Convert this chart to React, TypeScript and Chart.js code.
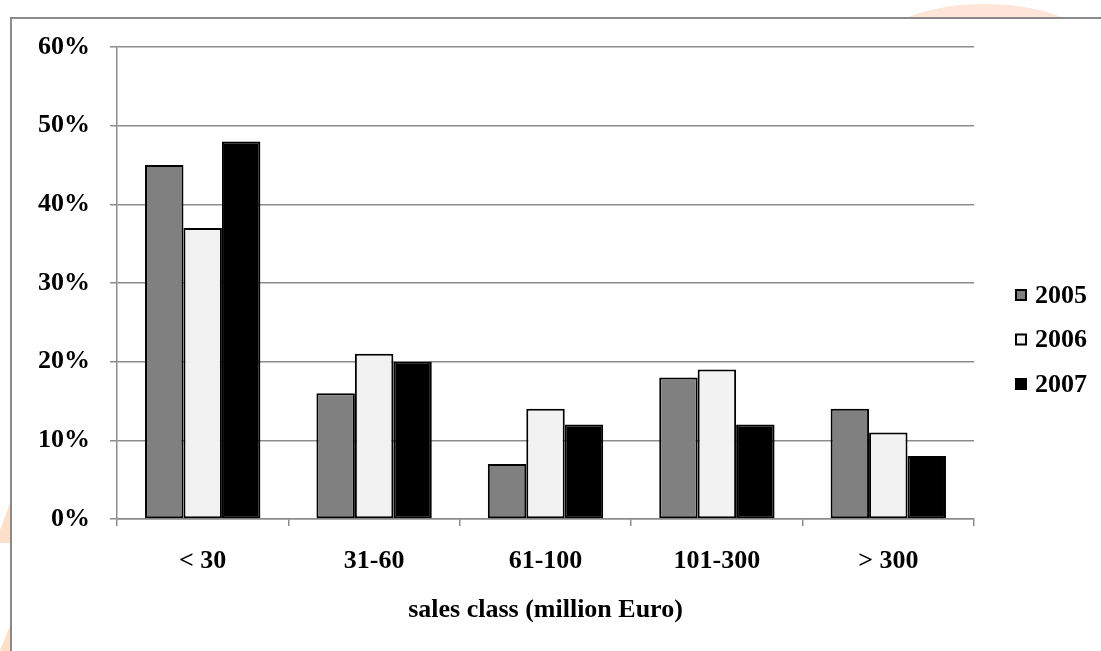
import React, { useEffect, useRef } from "react";
import { Chart, registerables } from "chart.js";

Chart.register(...registerables);

// Sales classes (million Euro) and the share of companies in each class per year (%)
const categories = ["< 30", "31-60", "61-100", "101-300", "> 300"];
const seriesLabels = ["2005", "2006", "2007"];
const share2005 = [45, 16, 7, 18, 14];
const share2006 = [37, 21, 14, 19, 11];
const share2007 = [48, 20, 12, 12, 8];
const yMax = 60;
const yStep = 10;

const WIDTH = 1101;
const HEIGHT = 651;
const FONT_FAMILY = "'Liberation Serif', 'Times New Roman', serif";
const GRID_COLOR = "#8c8c8c";

// Page background with the faint logo shapes and the grey frame around the chart.
const framePlugin = {
  id: "frame",
  beforeDraw(chart: Chart) {
    const { ctx, width, height } = chart;
    ctx.save();
    ctx.fillStyle = "#ffffff";
    ctx.fillRect(0, 0, width, height);

    ctx.fillStyle = "#fde6d8";
    ctx.beginPath();
    ctx.ellipse(985, 60, 120, 56, 0, 0, Math.PI * 2);
    ctx.fill();

    ctx.fillStyle = "#fde0cc";
    ctx.beginPath();
    ctx.moveTo(10, 503);
    ctx.lineTo(10, 543);
    ctx.lineTo(0, 543);
    ctx.lineTo(0, 530);
    ctx.closePath();
    ctx.fill();
    ctx.beginPath();
    ctx.moveTo(10, 626);
    ctx.lineTo(10, height);
    ctx.lineTo(0, height);
    ctx.lineTo(0, 650);
    ctx.closePath();
    ctx.fill();

    const fx = 11;
    const fy = 18;
    ctx.fillStyle = "#ffffff";
    ctx.fillRect(fx, fy, width - fx + 4, height - fy + 4);
    ctx.strokeStyle = "#8a8a8a";
    ctx.lineWidth = 2;
    ctx.beginPath();
    ctx.moveTo(fx, height + 4);
    ctx.lineTo(fx, fy);
    ctx.lineTo(width + 4, fy);
    ctx.stroke();
    ctx.restore();
  },
};

// Vertical legend to the right of the plot area.
const sideLegendPlugin = {
  id: "sideLegend",
  afterDraw(chart: Chart) {
    const { ctx, chartArea } = chart;
    const boxSize = 12;
    const boxLeft = chartArea.right + 41;
    const firstY = chartArea.top + 248;
    const pitch = 44.5;
    ctx.save();
    ctx.font = `bold 26px ${FONT_FAMILY}`;
    ctx.textBaseline = "middle";
    ctx.textAlign = "left";
    chart.data.datasets.forEach((ds, i) => {
      const cy = firstY + i * pitch;
      const top = cy - boxSize / 2;
      ctx.fillStyle = ds.backgroundColor as string;
      ctx.fillRect(boxLeft, top, boxSize, boxSize);
      ctx.strokeStyle = "#000000";
      ctx.lineWidth = 2;
      ctx.strokeRect(boxLeft + 1, top + 1, boxSize - 2, boxSize - 2);
      ctx.fillStyle = "#000000";
      ctx.fillText(String(ds.label), boxLeft + boxSize + 8, cy + 1);
    });
    ctx.restore();
  },
};

export default function App() {
  const canvasRef = useRef<HTMLCanvasElement | null>(null);

  useEffect(() => {
    document.body.style.margin = "0";
    const canvas = canvasRef.current;
    if (!canvas) return;

    const tickFont = { family: FONT_FAMILY, size: 26, weight: "bold" as const };
    const fills = ["#808080", "#f2f2f2", "#000000"];
    const values = [share2005, share2006, share2007];

    const chart = new Chart(canvas, {
      type: "bar",
      data: {
        labels: categories,
        datasets: seriesLabels.map((label, i) => ({
          label,
          data: values[i],
          backgroundColor: fills[i],
          borderColor: "#000000",
          borderWidth: 2,
          borderSkipped: false,
          barPercentage: 1,
          categoryPercentage: 0.673,
        })),
      },
      options: {
        responsive: false,
        animation: false,
        devicePixelRatio: 1,
        layout: { padding: { top: 47, left: 30, right: 127, bottom: 0 } },
        plugins: {
          legend: { display: false },
          tooltip: { enabled: false },
        },
        scales: {
          x: {
            grid: {
              drawOnChartArea: false,
              drawTicks: true,
              tickLength: 7,
              color: GRID_COLOR,
              lineWidth: 1.5,
              offset: true,
            },
            border: { color: GRID_COLOR, width: 1.5 },
            ticks: { font: tickFont, color: "#000000", padding: 20, maxRotation: 0 },
            title: {
              display: true,
              text: "sales class (million Euro)",
              font: tickFont,
              color: "#000000",
              padding: { top: 0, bottom: 25 },
            },
            afterFit: (scale: any) => {
              scale.height = 132;
            },
          },
          y: {
            min: 0,
            max: yMax,
            grid: { color: GRID_COLOR, lineWidth: 1.5, tickLength: 7 },
            border: { color: GRID_COLOR, width: 1.5 },
            ticks: {
              stepSize: yStep,
              font: tickFont,
              color: "#000000",
              padding: 20,
              callback: (v: any) => `${v}%`,
            },
            afterFit: (scale: any) => {
              scale.width = 87;
            },
          },
        },
      },
      plugins: [framePlugin, sideLegendPlugin],
    });

    return () => chart.destroy();
  }, []);

  return (
    <canvas
      ref={canvasRef}
      width={WIDTH}
      height={HEIGHT}
      style={{ display: "block", position: "fixed", left: 0, top: 0, width: WIDTH, height: HEIGHT }}
    />
  );
}
